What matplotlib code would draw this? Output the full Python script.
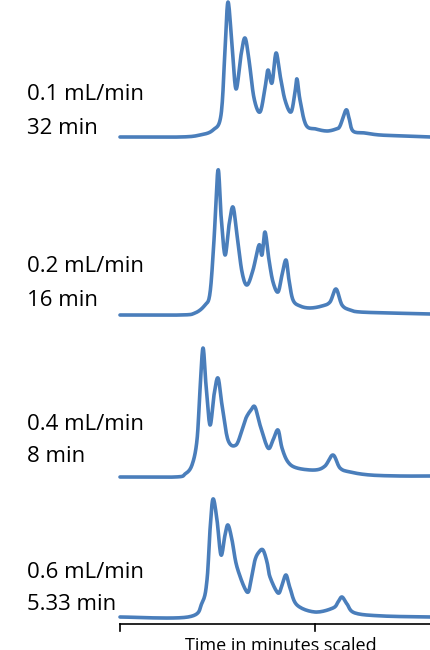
import matplotlib
matplotlib.use("Agg")
import matplotlib.pyplot as plt
import numpy as np

# Traces: scaled time (x) and signal height above baseline
T1_X = [120, 180, 200, 213, 221, 225, 228, 232, 236, 241, 245, 249, 254, 260, 265, 268, 272, 276, 280, 285, 291, 295, 297, 300, 306, 316, 327, 336, 340, 346, 349, 353, 365, 380, 405, 431]
T1_Y = [137, 137, 135, 130, 115, 50, 2, 45, 89, 55, 38, 60, 98, 112, 88, 70, 83, 53, 75, 100, 112, 92, 79, 100, 125, 129, 131, 129, 126, 110, 118, 131, 133, 135, 136, 137]

T2_X = [120, 180, 195, 205, 210, 214, 218, 221, 225, 229, 233, 237, 242, 247, 253, 259, 262, 265, 269, 273, 278, 282, 286, 289, 293, 300, 310, 322, 330, 336, 342, 350, 360, 390, 431]
T2_Y = [315, 315, 313, 305, 293, 240, 170, 215, 255, 225, 207, 235, 272, 285, 270, 245, 255, 232, 260, 282, 292, 275, 260, 280, 300, 306, 308, 306, 302, 289, 305, 310, 312, 313, 314]

T3_X = [120, 175, 185, 192, 197, 200, 203, 206, 210, 214, 218, 222, 228, 236, 242, 246, 251, 255, 260, 268, 273, 278, 282, 288, 297, 315, 325, 333, 340, 350, 370, 400, 431]
T3_Y = [477, 477, 474, 465, 440, 390, 348, 385, 425, 395, 378, 405, 440, 445, 430, 418, 410, 407, 425, 448, 440, 430, 448, 462, 468, 470, 466, 455, 468, 472, 475, 476, 476]

T4_X = [120, 188, 202, 207, 210, 213, 217, 221, 225, 228, 232, 237, 247, 251, 255, 259, 263, 267, 270, 278, 282, 286, 290, 297, 315, 333, 338, 342, 347, 355, 383, 431]
T4_Y = [617, 617, 603, 580, 530, 499, 520, 555, 535, 525, 540, 567, 592, 580, 560, 552, 550, 562, 577, 593, 585, 575, 588, 605, 612, 608, 602, 597, 604, 613, 616, 617]

TRACES = [(T1_X, T1_Y), (T2_X, T2_Y), (T3_X, T3_Y), (T4_X, T4_Y)]
FLOW_LABELS = ["0.1 mL/min", "0.2 mL/min", "0.4 mL/min", "0.6 mL/min"]
TIME_LABELS = ["32 min", "16 min", "8 min", "5.33 min"]
LABEL_Y = [95, 267, 424, 572]

COLOR = "#4a7ebb"


def catmull_rom(x, y, n=12):
    p = np.column_stack([x, y]).astype(float)
    p = np.vstack([p[0], p, p[-1]])
    out = []
    t = np.linspace(0, 1, n, endpoint=False)[:, None]
    for i in range(1, len(p) - 2):
        p0, p1, p2, p3 = p[i - 1], p[i], p[i + 1], p[i + 2]
        seg = 0.5 * ((2 * p1) + (-p0 + p2) * t + (2 * p0 - 5 * p1 + 4 * p2 - p3) * t ** 2
                     + (-p0 + 3 * p1 - 3 * p2 + p3) * t ** 3)
        out.append(seg)
    out.append(p[-2][None, :])
    s = np.vstack(out)
    return s[:, 0], s[:, 1]


fig = plt.figure(figsize=(4.31, 6.5), dpi=100)
ax = fig.add_axes([0, 0, 1, 1])
ax.set_xlim(0, 431)
ax.set_ylim(650, 0)
ax.axis("off")

for x, y in TRACES:
    sx, sy = catmull_rom(x, y)
    ax.plot(sx, sy, color=COLOR, linewidth=2.6, solid_capstyle="round")

for flow, tm, ly in zip(FLOW_LABELS, TIME_LABELS, LABEL_Y):
    ax.text(27, ly, flow, fontsize=16, family="Open Sans", va="center", ha="left")
    ax.text(27, ly + 33, tm, fontsize=16, family="Open Sans", va="center", ha="left")

# x axis
ax.plot([120, 431], [624, 624], color="black", linewidth=1.2)
for tx in [120, 315]:
    ax.plot([tx, tx], [624, 631], color="black", linewidth=1.2)
ax.text(281, 637, "Time in minutes scaled", fontsize=13, family="Open Sans",
        ha="center", va="top")

fig.savefig("out.png", dpi=100)
